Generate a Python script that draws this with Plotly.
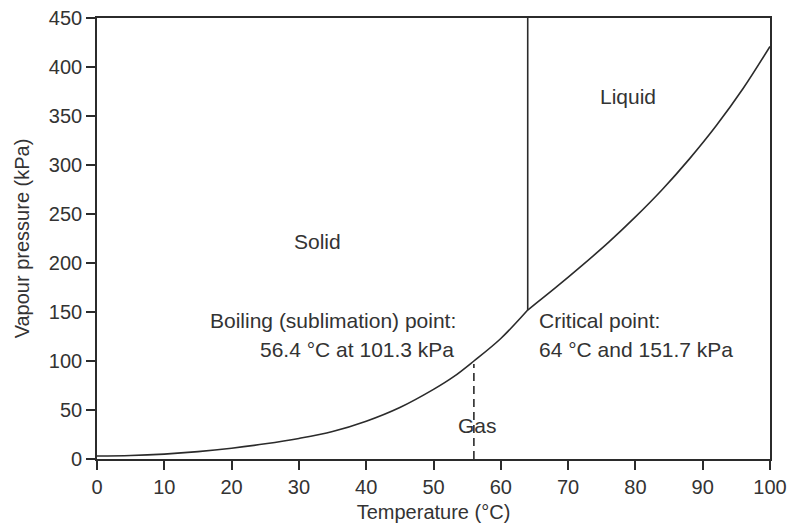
import plotly.graph_objects as go

# Vapour pressure curve
temp_low = [0, 5, 10, 15, 20, 25, 30, 35, 40, 45, 50, 53, 56, 60, 64]
press_low = [3, 3.5, 5, 7.5, 11, 15.5, 21, 28, 38.5, 52.5, 71, 84, 100, 123, 152]
temp_high = [64, 68, 72, 76, 80, 84, 88, 92, 96, 100]
press_high = [152, 174, 197, 221, 247, 275, 306, 340, 378, 421]

critical_T = [64, 64]
critical_P = [152, 450]
boiling_T = [56, 56]
boiling_P = [0, 97]

x_ticks = [0, 10, 20, 30, 40, 50, 60, 70, 80, 90, 100]
y_ticks = [0, 50, 100, 150, 200, 250, 300, 350, 400, 450]

labels = [
    # text, x, y, xanchor
    ("Solid", 32.7, 221.5, "center"),
    ("Liquid", 78.9, 370, "center"),
    ("Gas", 56.6, 33.7, "center"),
    ("Boiling (sublimation) point:", 53.6, 141, "right"),
    ("56.4 °C at 101.3 kPa", 53.4, 112, "right"),
    ("Critical point:", 65.4, 141, "left"),
    ("64 °C and 151.7 kPa", 65.4, 112, "left"),
]

line_color = "#2b2b2b"
text_color = "#333333"
font_family = "Liberation Sans, Arial, sans-serif"
fsize = 21

fig = go.Figure()
for tx, py in ((temp_low, press_low), (temp_high, press_high)):
    fig.add_trace(go.Scatter(x=tx, y=py, mode="lines",
                             line=dict(color=line_color, width=1.6, shape="spline", smoothing=1.0),
                             showlegend=False, hoverinfo="skip"))
fig.add_trace(go.Scatter(x=critical_T, y=critical_P, mode="lines",
                         line=dict(color=line_color, width=1.6),
                         showlegend=False, hoverinfo="skip"))
fig.add_trace(go.Scatter(x=boiling_T, y=boiling_P, mode="lines",
                         line=dict(color=line_color, width=1.6, dash="8px,5px"),
                         showlegend=False, hoverinfo="skip"))

for text, x, y, anchor in labels:
    fig.add_annotation(x=x, y=y, text=text, showarrow=False, xanchor=anchor,
                       yanchor="middle", font=dict(size=fsize, color=text_color, family=font_family))

axis_common = dict(showline=True, linecolor=line_color, linewidth=1.6, mirror=True,
                   ticks="outside", ticklen=9, tickwidth=1.6, tickcolor=line_color,
                   showgrid=False, zeroline=False, automargin=False,
                   tickfont=dict(size=fsize - 1, color=text_color, family=font_family))

fig.update_xaxes(range=[0, 100], tickvals=x_ticks,
                 title=dict(text="Temperature (°C)", font=dict(size=fsize - 1, color=text_color, family=font_family), standoff=8),
                 **axis_common)
fig.update_yaxes(range=[0, 450], tickvals=y_ticks,
                 title=dict(text="Vapour pressure (kPa)", font=dict(size=fsize - 1, color=text_color, family=font_family), standoff=14),
                 **axis_common)

fig.update_layout(width=790, height=524, margin=dict(l=97, r=20, t=18, b=65),
                  plot_bgcolor="white", paper_bgcolor="white", hovermode=False,
                  font=dict(family=font_family, color=text_color))

fig.write_html("out.html", config={"displayModeBar": False},
               post_script="document.body.style.margin='0';document.body.style.overflow='hidden';")
